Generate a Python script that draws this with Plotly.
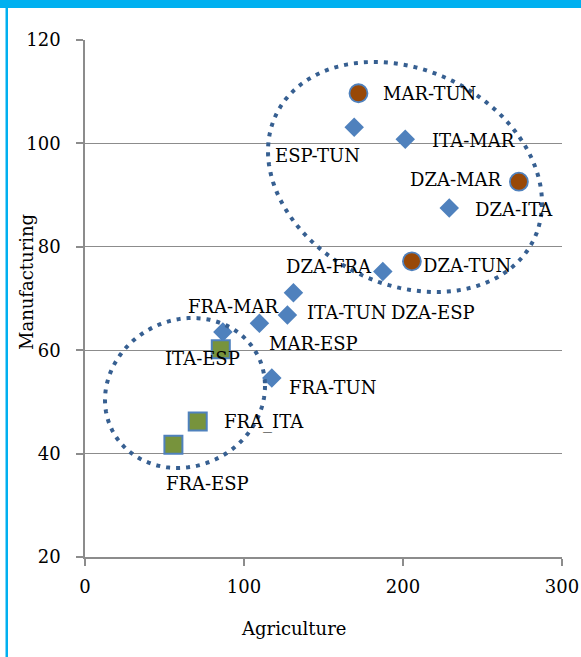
import numpy as np
import plotly.graph_objects as go

# ---------------- data ----------------
diamond_labels = ["ESP-TUN", "ITA-MAR", "DZA-ITA", "DZA-FRA", "DZA-ESP",
                  "ITA-TUN", "MAR-ESP", "FRA-MAR", "FRA-TUN"]
diamond_agri = [169.3, 201.4, 229.1, 187.3, 131.1, 127.3, 109.7, 86.7, 117.5]
diamond_manu = [103.1, 100.8, 87.5, 75.2, 71.1, 66.8, 65.2, 63.5, 54.6]

circle_labels = ["MAR-TUN", "DZA-MAR", "DZA-TUN"]
circle_agri = [172.0, 272.9, 205.6]
circle_manu = [109.7, 92.6, 77.2]

square_labels = ["ITA-ESP", "FRA_ITA", "FRA-ESP"]
square_agri = [85.4, 70.9, 55.6]
square_manu = [60.2, 46.2, 41.7]

x_ticks = [0, 100, 200, 300]
y_ticks = [20, 40, 60, 80, 100, 120]

# label offsets in pixels (dx right, dy down) -- placement only
label_offsets = {
    "MAR-TUN": (71, 0), "ESP-TUN": (-37, 28), "ITA-MAR": (68, 1),
    "DZA-MAR": (-63, -2), "DZA-ITA": (65, 1), "DZA-TUN": (55, 4),
    "DZA-FRA": (-54, -5), "DZA-ESP": (140, 20), "ITA-TUN": (60, -3),
    "MAR-ESP": (54, 20), "FRA-MAR": (11, -26), "FRA-TUN": (61, 9),
    "ITA-ESP": (-18, 9), "FRA_ITA": (66, 0), "FRA-ESP": (34, 39),
}

# ---------------- layout constants ----------------
W, H = 581, 657
ML, MR, MT, MB = 85, 19, 40, 100
PW, PH = W - ML - MR, H - MT - MB
FONT = "DejaVu Serif"
GRAY = "#8C8C8C"


def px_to_paper(px, py):
    return (px - ML) / PW, (H - MB - py) / PH


def ellipse_path(cx, cy, hw, hh, q12, n=160):
    l21 = q12 / hw
    l22 = np.sqrt(hh ** 2 - l21 ** 2)
    t = np.linspace(0, 2 * np.pi, n, endpoint=False)
    xs = cx + hw * np.cos(t)
    ys = cy + l21 * np.cos(t) + l22 * np.sin(t)
    pts = [px_to_paper(a, b) for a, b in zip(xs, ys)]
    d = "M %.5f,%.5f " % pts[0] + " ".join("L %.5f,%.5f" % p for p in pts[1:]) + " Z"
    return d


fig = go.Figure()

fig.add_trace(go.Scatter(
    x=diamond_agri, y=diamond_manu, mode="markers",
    marker=dict(symbol="diamond", size=15, color="#4F81BD",
                line=dict(width=0)),
    hoverinfo="skip", showlegend=False))
fig.add_trace(go.Scatter(
    x=circle_agri, y=circle_manu, mode="markers",
    marker=dict(symbol="circle", size=18, color="#984807",
                line=dict(width=1.8, color="#4F81BD")),
    hoverinfo="skip", showlegend=False))
fig.add_trace(go.Scatter(
    x=square_agri, y=square_manu, mode="markers",
    marker=dict(symbol="square", size=18, color="#77933C",
                line=dict(width=2, color="#4F81BD")),
    hoverinfo="skip", showlegend=False))

annotations = []
for labs, xs, ys in [(diamond_labels, diamond_agri, diamond_manu),
                     (circle_labels, circle_agri, circle_manu),
                     (square_labels, square_agri, square_manu)]:
    for lab, xv, yv in zip(labs, xs, ys):
        dx, dy = label_offsets[lab]
        annotations.append(dict(
            x=xv, y=yv, xref="x", yref="y", text=lab, showarrow=False,
            xanchor="center", yanchor="middle", xshift=dx, yshift=-dy,
            font=dict(family=FONT, size=18, color="#000000")))

# axis titles
ax_x, ax_y = px_to_paper(293, 628)
annotations.append(dict(x=ax_x, y=ax_y, xref="paper", yref="paper",
                        text="Agriculture", showarrow=False,
                        xanchor="center", yanchor="middle",
                        font=dict(family=FONT, size=18, color="#000000")))
ay_x, ay_y = px_to_paper(26, 282)
annotations.append(dict(x=ay_x, y=ay_y, xref="paper", yref="paper",
                        text="Manufacturing", showarrow=False, textangle=-90,
                        xanchor="center", yanchor="middle",
                        font=dict(family=FONT, size=18, color="#000000")))

shapes = []
ELL = "#365F91"
shapes.append(dict(type="path", xref="paper", yref="paper",
                   path=ellipse_path(405, 177, 137, 115, 3562),
                   line=dict(color=ELL, width=4, dash="4px,6px"),
                   fillcolor="rgba(0,0,0,0)", layer="above"))
shapes.append(dict(type="path", xref="paper", yref="paper",
                   path=ellipse_path(185, 393, 80, 75, -560),
                   line=dict(color=ELL, width=4, dash="4px,6px"),
                   fillcolor="rgba(0,0,0,0)", layer="above"))

# cyan frame: top bar and left line
x0, y0 = px_to_paper(-2, 8)
x1, y1 = px_to_paper(W + 2, -2)
shapes.append(dict(type="rect", xref="paper", yref="paper", x0=x0, x1=x1,
                   y0=y0, y1=y1, fillcolor="#00B0F0", line=dict(width=0)))
x0, y0 = px_to_paper(5.5, H + 2)
x1, y1 = px_to_paper(8, 0)
shapes.append(dict(type="rect", xref="paper", yref="paper", x0=x0, x1=x1,
                   y0=y0, y1=y1, fillcolor="#00B0F0", line=dict(width=0)))

fig.update_layout(
    width=W, height=H, autosize=False,
    margin=dict(l=ML, r=MR, t=MT, b=MB, pad=0, autoexpand=False),
    paper_bgcolor="white", plot_bgcolor="white",
    font=dict(family=FONT, size=18, color="#000000"),
    annotations=annotations, shapes=shapes, showlegend=False,
    xaxis=dict(range=[0, 300], tickvals=x_ticks, showgrid=False,
               zeroline=False, showline=True, linecolor=GRAY, linewidth=1.5,
               ticks="outside", ticklen=7, tickcolor=GRAY, tickwidth=1.5,
               ticklabelstandoff=6, automargin=False,
               tickfont=dict(family=FONT, size=18, color="#000000")),
    yaxis=dict(range=[20, 120], tickvals=y_ticks, showgrid=True,
               gridcolor=GRAY, gridwidth=1.3, zeroline=False, showline=True,
               linecolor=GRAY, linewidth=1.5, ticks="outside", ticklen=7,
               tickcolor=GRAY, tickwidth=1.5, ticklabelstandoff=12,
               automargin=False,
               tickfont=dict(family=FONT, size=18, color="#000000")),
)

fig.write_html("out.html",
               config={"displayModeBar": False, "responsive": False},
               post_script="document.body.style.margin='0';"
                           "document.body.style.overflow='hidden';")
